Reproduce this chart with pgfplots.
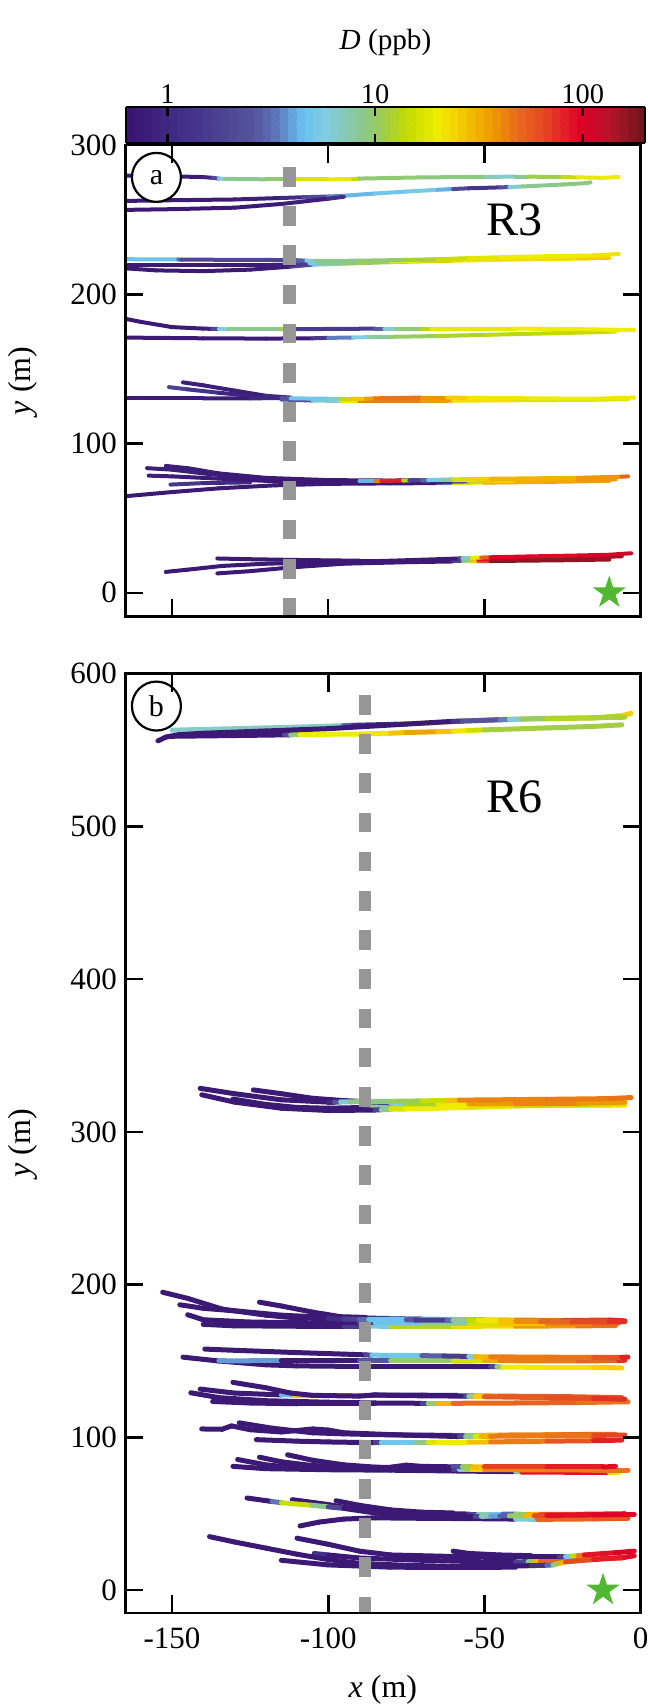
\documentclass[border=0pt]{standalone}
\usepackage{fontspec}
\setmainfont{Liberation Serif}
\usepackage{pgfplots}
\pgfplotsset{compat=1.18}

% filled five-pointed star marker
\pgfdeclareplotmark{fstar}{%
  \pgfpathmoveto{\pgfqpoint{0pt}{8.7pt}}%
  \pgfpathlineto{\pgfqpoint{-1.95pt}{2.69pt}}%
  \pgfpathlineto{\pgfqpoint{-8.27pt}{2.69pt}}%
  \pgfpathlineto{\pgfqpoint{-3.16pt}{-1.03pt}}%
  \pgfpathlineto{\pgfqpoint{-5.11pt}{-7.04pt}}%
  \pgfpathlineto{\pgfqpoint{0pt}{-3.32pt}}%
  \pgfpathlineto{\pgfqpoint{5.11pt}{-7.04pt}}%
  \pgfpathlineto{\pgfqpoint{3.16pt}{-1.03pt}}%
  \pgfpathlineto{\pgfqpoint{8.27pt}{2.69pt}}%
  \pgfpathlineto{\pgfqpoint{1.95pt}{2.69pt}}%
  \pgfpathclose
  \pgfusepathqfill
}

\definecolor{dashgray}{RGB}{150,150,150}
\definecolor{stargreen}{RGB}{82,184,50}

\tikzset{
  tag/.style={circle, draw=black, line width=1.1pt, fill=white,
    minimum size=24.5pt, inner sep=0pt, font=\fontsize{15}{17}\selectfont},
}

% colour scale for log10(D), D in ppb, from 0.63 to 200
\pgfplotsset{
  colormap={Dmap}{
    rgb255(0cm)=(58,20,112)
    rgb255(4cm)=(64,42,132)
    rgb255(8cm)=(74,62,144)
    rgb255(12cm)=(86,84,158)
    rgb255(14cm)=(92,112,182)
    rgb255(16cm)=(100,168,226)
    rgb255(17cm)=(106,196,238)
    rgb255(19cm)=(128,204,228)
    rgb255(21cm)=(136,202,184)
    rgb255(23cm)=(140,200,132)
    rgb255(25cm)=(162,206,70)
    rgb255(27cm)=(194,218,0)
    rgb255(30cm)=(238,236,0)
    rgb255(32cm)=(245,208,0)
    rgb255(35cm)=(240,160,0)
    rgb255(38cm)=(232,106,30)
    rgb255(41cm)=(228,62,36)
    rgb255(44cm)=(224,0,40)
    rgb255(47cm)=(180,20,40)
    rgb255(50cm)=(115,22,30)
  },
  % stepped copy of the scale for the colour bar
  colormap={Dband}{samples of colormap=(61 of Dmap)},
  panel/.style={
    scale only axis, width=257.65pt,
    xmin=-165, xmax=0,
    xtick={-150,-100,-50,0},
    tick align=inside, xtick pos=both, ytick pos=both,
    major tick length=9pt,
    every tick/.style={black, line width=1.3pt},
    axis line style={line width=1.4pt},
    tick label style={font=\fontsize{15.5}{17}\selectfont},
    label style={font=\fontsize{16}{18}\selectfont},
    /pgf/number format/assume math mode=true,
    yticklabel style={xshift=-0.6pt},
    xticklabel style={yshift=-3.7pt},
    ylabel style={at={(axis description cs:-0.198,0.5)}, anchor=center},
    colormap name=Dmap, point meta min=-0.2, point meta max=2.3,
    axis on top,
  },
  trace/.style={mesh, line width=2pt, line cap=round, line join=round,
    mark=none, point meta={ln(\thisrow{D})/ln(10)}},
  plume/.style={draw=dashgray, line width=6.2pt, line cap=butt,
    dash pattern=on 9.8pt off 9.8pt},
}

\begin{document}
\begin{tikzpicture}
\useasboundingbox (0,0) rectangle (324pt,852.5pt);

% ---------------- (a) R3 ----------------
\begin{axis}[panel,
  at={(62.6pt,544.15pt)}, anchor=south west, height=235.85pt,
  ymin=-16, ymax=300, ytick={0,100,200,300},
  xticklabels={},
  ylabel={\textit{y} (m)},
  colorbar horizontal,
  colorbar style={
    at={(parent axis.north west)}, anchor=south west,
    xshift=0.4pt, yshift=9.5pt,
    scale only axis, width=259.5pt, height=18pt,
    colormap name=Dband, colormap access=piecewise constant,
    xtick={0,1,2}, xticklabels={1,10,100},
    ytick=\empty,
    xtick pos=both, xticklabel pos=upper,
    tick align=inside, major tick length=4.5pt,
    every tick/.style={black, line width=1.35pt},
    axis line style={line width=1.4pt},
    xticklabel style={font=\fontsize{14.2}{16}\selectfont, yshift=-1.9pt},
    xlabel={\textit{D} (ppb)},
    xlabel style={at={(axis description cs:0.5,1)}, anchor=center,
      yshift=32.5pt, font=\fontsize{14.6}{16}\selectfont},
  },
]
% track near y = 278
\addplot[trace] table {
x y D
-166 279.5 0.7
-150 279 0.7
-140 278.5 0.8
-137 278 1.0
-135 277.5 4
-133 277.3 8
-120 277 9
-114 277 10
-111 277 16
-100 277 18
-92 277.2 20
-90 277.5 10
-70 278.3 9
-50 278.6 9
-46 278.7 6
-40 278.8 7
-36 278.8 10
-25 278.5 12
-20 278.3 18
-12 278 20
-7 278.6 20
};
\addplot[trace] table {
x y D
-166 262.5 0.7
-150 263 0.7
-130 263.5 0.75
-115 264.5 0.8
-108 265 1.3
-100 265.5 3
-95 266 4
-85 267.5 4.5
-75 268.8 5
-65 270 5.5
-60 270.5 3
-55 271 1.3
-45 271.6 1.2
-42 271.8 4.5
-38 272.2 8
-25 273.5 9
-17 274.5 9
-16 275 9
};
\addplot[trace] table {
x y D
-166 256.5 0.7
-150 257 0.7
-130 258 0.7
-115 260.5 0.75
-100 264 0.8
-95 265.3 1.5
};
% tracks near y = 222
\addplot[trace] table {
x y D
-166 217.5 0.7
-155 216 0.7
-140 215.5 0.7
-125 216.5 0.7
-112 218.5 0.8
-105 219.8 5
-95 220.5 9
-80 221.5 12
-60 222.5 18
-40 223.3 20
-15 224 25
};
\addplot[trace] table {
x y D
-166 219.5 0.7
-140 219.5 0.7
-120 219.5 0.75
-110 220 0.8
-106 220.7 3
-102 221 8
-90 221.5 10
-80 222 13
-70 222.5 30
-60 223 24
-40 224 22
-20 224.5 24
-10 224.5 28
};
\addplot[trace] table {
x y D
-166 223.5 4.5
-148 223.3 4.5
-147 223.2 2.0
-120 223 1.8
-110 222.8 1.8
-107 222.5 4.5
-104 222.3 8
-90 222.5 9
-75 223 10
-65 223.5 14
-55 224.2 16
-45 224.8 20
-30 225.5 20
-15 226 21
-7 227 22
};
% tracks near y = 175
\addplot[trace] table {
x y D
-166 171 0.7
-140 170.5 0.7
-120 170.3 0.7
-105 170.5 0.8
-100 170.8 2.5
-92 171 4.5
-87 171.3 7
-80 171.5 9
-65 172 11
-50 172.8 13
-30 173.8 14
-10 174.8 15
-8 175 18
};
\addplot[trace] table {
x y D
-166 184 0.7
-160 181.5 0.7
-150 178 0.7
-140 177 0.75
-137 176.8 1.0
-135 176.7 4
-132 176.5 8
-115 176.5 9
-113 176.5 13
-111 176.6 1.5
-90 176.9 1.4
-85 177 1.6
-82 177 4.5
-78 177 9
-70 177 10
-67 177 18
-40 177 20
-15 176.5 20
-2 176 20
};
% tracks near y = 130
\addplot[trace] table {
x y D
-151 137.8 2.0
-145 136.3 1.5
-135 134 1.0
-125 132 0.8
-117 131 0.8
};
\addplot[trace] table {
x y D
-146.5 141 0.8
-140 139 0.8
-130 135.5 0.8
-120 132 0.8
-112 130.8 1.2
};
\addplot[trace] table {
x y D
-115 129.5 1.5
-105 128.8 4
-96 128.5 9
-90 128.5 40
-70 128.5 48
-60 128.7 28
-40 129 18
-15 129.3 16
-4 129.8 18
};
\addplot[trace] table {
x y D
-166 130.2 0.7
-140 130.2 0.7
-125 130.3 0.8
-115 130.4 1.2
-112 130.3 4.5
-100 130 5
-96 129.9 8
-93 129.9 25
-88 130 30
-85 130.3 45
-70 130.8 50
-62 130.8 30
-55 130.6 22
-35 130.3 20
-15 130 20
-2 130.8 22
};
% tracks near y = 75
\addplot[trace] table {
x y D
-166 64.5 0.7
-150 67.5 0.7
-135 70 0.7
-117 72 0.7
-100 73 0.7
-80 73.3 0.7
-65 73.5 0.7
-60 73.6 15
-50 73.8 30
-30 74.3 35
-10 75 35
};
\addplot[trace] table {
x y D
-150.5 72.5 1.5
-140 73.5 1.3
-125 74 0.8
};
\addplot[trace] table {
x y D
-157.5 78.5 0.8
-150 78 0.8
-135 76.5 0.7
-115 74.5 0.7
-95 74 0.7
-70 74.2 0.7
-60 74.5 0.7
-55 74.6 8
-50 74.8 20
-40 75 30
-20 75.5 35
-8 76 40
};
\addplot[trace] table {
x y D
-152 85 0.8
-145 83.5 0.8
-135 80 0.75
-120 77 0.7
-100 75.5 0.7
-80 75.2 0.7
-75 75.3 0.8
-70 75.3 2.5
-65 75.5 6
-60 75.6 13
-50 75.8 28
-30 76.5 35
-15 77 32
-7 77.5 38
};
\addplot[trace] table {
x y D
-158 83.5 0.8
-150 82.5 0.8
-140 80 0.75
-125 77 0.7
-110 75.5 0.7
-90 74.8 0.7
-85 74.8 25
-83 74.9 80
-76 75.2 90
-74 75.3 2
-70 75.5 1.5
-68 75.6 5
-63 75.8 5
-60 76 12
-55 76.2 22
-48 76.4 30
-20 77 32
-6 77.8 45
-4 78 60
};
% tracks near y = 20
\addplot[trace] table {
x y D
-135.5 13 0.7
-125 14.5 0.7
-112 17 0.7
-95 19.5 0.7
-75 20.5 0.7
-60 21 0.7
-57 21 4
-55 21 13
-52 21.2 22
-48 21.3 180
-25 21.8 180
-10 22.3 160
};
\addplot[trace] table {
x y D
-135.5 23 0.7
-125 22.5 0.7
-110 22 0.7
-90 21.5 0.7
-70 21.5 0.7
-60 21.8 0.7
-57 22 5
-54 22.3 15
-52 22.4 50
-48 22.5 160
-30 23 170
-15 23.8 170
-6 24.5 160
};
\addplot[trace] table {
x y D
-152 14 0.7
-145 15.5 0.7
-134 18 0.7
-120 19.5 0.7
-100 20.5 0.7
-80 21.5 0.7
-65 22.5 0.7
-58 23 0.75
-57 23.2 4
-54 23.4 12
-51 23.6 30
-48 23.8 100
-35 24.4 100
-20 25 90
-10 25.5 110
-3 26.5 120
};
% release cross-section and source
\addplot[plume] coordinates {(-112.4,285.3) (-112.4,-20)};
\addplot[only marks, mark=fstar, color=stargreen] coordinates {(-10,0)};
\node[tag] at (axis cs:-155,278.3) {a};
\node[font=\fontsize{24}{28}\selectfont] at (axis cs:-40.2,249.7) {R3};
\end{axis}

% ---------------- (b) R6 ----------------
\begin{axis}[panel,
  at={(62.6pt,46pt)}, anchor=south west, height=469.65pt,
  ymin=-15, ymax=600, ytick={0,100,200,300,400,500,600},
  xlabel={\textit{x} (m)},
  xlabel style={at={(axis description cs:0.5,0)}, anchor=center, yshift=-38.5pt},
  ylabel={\textit{y} (m)},
  trace/.append style={line width=2.5pt},
]
% tracks near y = 565
\addplot[trace] table {
x y D
-151 559 0.7
-130 559.5 0.7
-112 560 0.7
};
\addplot[trace] table {
x y D
-114 560 1.0
-112 560 4.5
-109 560.2 20
-90 560.5 20
-80 561 22
-75 561.5 35
-65 562 35
-60 562.3 22
-55 562.8 20
-50 563.2 12
-30 564.5 11
-15 565.5 11
-6 566.5 12
};
\addplot[trace] table {
x y D
-150 563 6.5
-130 564 6.5
-110 565 7
-95 566 6.5
-92 566.2 1.2
-80 566.8 1.2
-78 567 4.5
-76 567.2 14
-70 567.5 15
-67 567.8 20
-62 568.5 45
-45 570 45
-38 570.3 20
-30 570.5 13
-15 571 12
-6 572.5 13
-3 574 50
};
\addplot[trace] table {
x y D
-154.5 556 0.7
-152 558.5 0.7
-148 560 0.7
-140 561 0.7
-120 562.5 0.7
-100 564 0.7
-75 567 0.7
-60 568.8 0.7
-57 569 2.5
-45 569.8 2.5
-42 570 4.5
-38 570.3 8
-30 570.8 13
-15 571.2 12
-5 571.5 12
};
% tracks near y = 318
\addplot[trace] table {
x y D
-130.5 321.5 0.7
-120 318 0.7
-110 316 0.7
-100 315.5 0.7
-88 316 0.7
-86 316.5 5
-80 317 12
-60 317 20
-30 317.2 22
-5 317.5 22
};
\addplot[trace] table {
x y D
-140.5 324.3 0.7
-130 319.5 0.7
-115 315.5 0.7
-100 314 0.7
-85 314.3 0.7
-83 314.5 4.5
-80 314.8 14
-75 315 20
-55 316 20
-40 317 16
-20 318 14
-5 319 15
};
\addplot[trace] table {
x y D
-124 327.5 0.7
-115 325 0.7
-105 322 0.7
-95 320.5 0.7
-85 319.5 0.8
-80 319 3
-75 318.5 10
-65 318.3 14
-55 318.3 30
-40 318.5 45
-20 318.7 40
-5 319.5 35
};
\addplot[trace] table {
x y D
-141 328.5 0.7
-130 325 0.7
-115 321 0.7
-100 319.5 0.7
-98 319.5 1.2
-96 319.6 4.5
-93 319.7 8
-80 320 10
-70 320.3 11
-62 320.6 20
-58 320.8 40
-30 321.3 45
-10 321.8 45
-3 322.5 50
};
% tracks near y = 176
\addplot[trace] table {
x y D
-140 174 0.7
-130 173 0.7
-110 172.8 0.7
-95 172.8 0.7
-88 172.8 3
-80 172.7 9
-60 172.7 18
-40 172.8 30
-20 173 45
-8 173.2 50
};
\addplot[trace] table {
x y D
-145 180.3 0.7
-140 177 0.7
-125 175.5 0.7
-105 175 0.7
-90 175 0.7
-85 175 4
-70 175 5
-55 174.8 12
-45 174.6 22
-30 174.5 35
-15 174.6 50
-7 174.8 55
};
\addplot[trace] table {
x y D
-147.5 186.8 0.7
-140 184.5 0.7
-128 182.5 0.7
-115 180 0.7
-100 178.5 0.7
-85 178 0.7
-80 177.8 2
-70 177.5 4.5
-60 177.2 6
-50 177 20
-40 176.8 35
-25 176.5 60
-10 176.8 80
-5 176.3 90
};
\addplot[trace] table {
x y D
-122 188.5 0.7
-115 186 0.7
-105 182 0.7
-96 179 0.7
-88 178.5 0.7
};
\addplot[trace] table {
x y D
-153 195 0.7
-145 191 0.7
-134 184 0.7
-120 180 0.7
-112 178.5 0.7
-100 177.8 0.7
-95 177.5 1.5
-90 177.3 2.0
-87 177.2 4.5
-75 177 4.5
-72 176.8 1.5
-62 176.7 1.5
-60 176.6 6
-55 176.5 10
-52 176.4 20
-45 176.3 22
-40 176 35
-32 175.8 45
-22 175.6 60
-10 175.7 70
-5 175.8 85
};
% tracks near y = 150
\addplot[trace] table {
x y D
-146.5 152.5 0.7
-135 150 0.7
-120 147.5 0.7
-110 146.8 0.7
-95 146.5 0.7
-80 146.5 0.7
-60 146.5 0.7
-48 146.3 0.7
-46 146.2 5
-44 146 20
-30 145.8 20
-15 145.8 22
-6 145.5 28
};
\addplot[trace] table {
x y D
-135 150.2 0.7
-125 150 20
-115 150 0.7
-90 150 0.7
-80 150 9
-60 150 11
-50 150.2 25
-45 150.2 45
-20 150 45
-7 150.3 60
-5 150.5 100
};
\addplot[trace] table {
x y D
-139.5 157.8 0.7
-130 157 0.7
-110 155.5 0.7
-95 154.5 0.7
-88 154 0.7
-86 153.8 4.5
-70 153.5 5
-63 153.3 1.5
-55 153 1.5
-53 152.8 20
-48 152.7 45
-30 152.5 45
-15 152.3 50
-6 152.4 70
-4 152.5 100
};
% tracks near y = 125
\addplot[trace] table {
x y D
-137 123.5 0.7
-125 122.5 0.7
-110 122 0.7
-95 122 0.7
-85 122 0.7
};
\addplot[trace] table {
x y D
-144 129.2 0.7
-135 126 0.7
-120 124 0.7
-100 123 0.7
-85 122.5 0.7
-70 122.3 0.7
-68 122.3 4.5
-65 122.3 20
-60 122.3 45
-40 122.5 55
-20 122.8 50
-4 123.3 45
};
\addplot[trace] table {
x y D
-141 131.6 0.7
-130 129 0.7
-115 127.8 0.7
-111 127.7 25
-100 127.7 28
-88 127.7 28
-86 127.7 0.7
-70 127.6 0.7
-58 127.4 0.7
-55 127.3 30
-45 127 50
-25 126.7 55
-6 126 60
};
\addplot[trace] table {
x y D
-130.5 136 0.7
-120 132.5 0.7
-112 129 0.7
-105 127.5 0.7
-90 127 0.7
-85 127.8 0.7
-80 127.5 0.7
-70 127.2 0.7
-56 127 0.7
-55 126.9 5
-53 126.8 12
-50 126.6 55
-30 126 60
-15 125.5 65
-5 125 90
};
% tracks near y = 100
\addplot[trace] table {
x y D
-123 98.5 0.7
-110 97.5 0.7
-100 97 0.7
-85 96.5 0.7
-83 96.5 4.5
-72 96.5 5
-68 96.6 15
-65 96.7 20
-55 96.8 20
-48 97 40
-30 97.5 50
-15 97.8 70
-6 98.2 100
};
\addplot[trace] table {
x y D
-128.5 109.5 0.7
-118 106 0.7
-105 103 0.7
-95 102.3 0.7
-85 101.8 0.7
-75 101.5 0.7
-60 101.3 0.7
-56 101.3 6
-52 101.3 20
-45 101.5 40
-25 101.8 45
-8 102 55
};
\addplot[trace] table {
x y D
-140.5 105.5 0.7
-134 105.3 0.7
-131 107.5 0.7
-125 105 0.7
-115 103.5 0.7
-105 105.5 0.7
-100 104.8 0.7
-95 103 0.7
-80 101.8 0.7
-70 101.2 0.7
-58 100.5 0.7
-56 100.5 5
-53 100.6 14
-51 100.6 22
-48 100.7 45
-30 101 45
-15 101.3 50
-5 101.5 90
};
% tracks near y = 80
\addplot[trace] table {
x y D
-130.5 81 0.7
-120 79.5 0.7
-100 78.8 0.7
-80 78.5 0.7
-60 78 0.7
-40 77.5 0.7
-38 77.3 90
-10 77 90
-7 77 5
};
\addplot[trace] table {
x y D
-113 88.6 0.7
-105 85 0.7
-95 82 0.7
-85 80.5 0.7
-75 80 0.7
};
\addplot[trace] table {
x y D
-129 85.5 0.7
-120 82 0.7
-110 80 0.7
-95 79.3 0.7
-80 79 0.7
-70 79 0.7
-60 79 0.7
-58 79 4.5
-56 79 8
-54 79 15
-50 78.9 40
-30 78.7 45
-15 78.6 45
-4 78.6 50
};
\addplot[trace] table {
x y D
-122 87 0.7
-115 84 0.7
-105 81.5 0.7
-90 80.5 0.7
-80 80.5 0.7
-75 81.8 0.7
-70 81 0.7
-60 80.7 0.7
-57 80.7 8
-54 80.7 14
-50 80.6 60
-30 80.6 80
-12 80.6 90
-8 81 100
};
% tracks near y = 50
\addplot[trace] table {
x y D
-109 42 0.7
-103 44.5 0.7
-95 46.5 0.7
-85 47.3 0.7
-70 47 0.7
-55 46.8 0.7
-40 46.5 0.7
-33 46.3 50
-15 46.6 55
-4 47 60
};
\addplot[trace] table {
x y D
-97.5 58.5 0.7
-90 55.5 0.7
-80 52.5 0.7
-70 51 0.7
-60 50.5 0.7
};
\addplot[trace] table {
x y D
-111.5 59.2 0.7
-100 56 0.7
-90 52.5 0.7
-80 50.5 0.7
-65 50 0.7
-55 49.8 0.7
-52 49.8 5
-48 49.8 10
-44 49.8 2
-40 49.7 4.5
-36 49.6 20
-32 49.5 50
-20 49.6 80
-5 50 90
};
\addplot[trace] table {
x y D
-126 60.3 0.7
-118 58 0.7
-115 57.2 15
-105 55.5 15
-100 54.5 5
-95 53.5 0.7
-85 50.5 0.7
-75 49 0.7
-60 48.5 0.7
-53 48.3 0.7
-51 48.3 5
-48 48.4 10
-45 48.5 1.5
-42 48.6 5
-37 48.7 20
-34 48.8 45
-30 48.9 90
-15 49.2 95
-2 49.5 100
};
% tracks near y = 20
\addplot[trace] table {
x y D
-115 19.5 0.7
-100 16.5 0.7
-80 15 0.7
-60 14.8 0.7
-40 15 0.7
};
\addplot[trace] table {
x y D
-104.5 24 2
-100 23 0.7
-90 21 0.7
-70 19.5 0.7
-50 18.5 0.7
-40 18.5 0.7
-36 18.6 4
-34 18.8 20
-32 19 45
-20 20 60
-6 21 70
};
\addplot[trace] table {
x y D
-60 25.5 0.7
-55 24 0.7
-45 23 0.7
-35 22.5 0.7
};
\addplot[trace] table {
x y D
-110 34 0.7
-100 30 0.7
-90 25.5 0.7
-80 23 0.7
-60 22 0.7
-40 21.8 0.7
-26 21.8 0.7
-24 22 3
-22 22.2 8
-20 22.5 25
-18 23 80
-8 24.5 100
-2 25.5 110
};
\addplot[trace] table {
x y D
-138 35 0.7
-130 31.5 0.7
-120 27.5 0.7
-110 23.5 0.7
-100 20 0.7
-90 17.5 0.7
-75 16.2 0.7
-60 15.5 0.7
-45 15.5 0.7
-35 16 0.7
-30 16.3 2
-28 16.5 4.5
-26 17.5 20
-24 18.5 50
-15 20 80
-5 21.5 90
-2 22.5 100
};
% release cross-section and source
\addplot[plume] coordinates {(-88.3,586) (-88.3,-20)};
\addplot[only marks, mark=fstar, color=stargreen] coordinates {(-12,0)};
\node[tag] at (axis cs:-155,578.8) {b};
\node[font=\fontsize{24}{28}\selectfont] at (axis cs:-40.3,519.5) {R6};
\end{axis}
\end{tikzpicture}
\end{document}
